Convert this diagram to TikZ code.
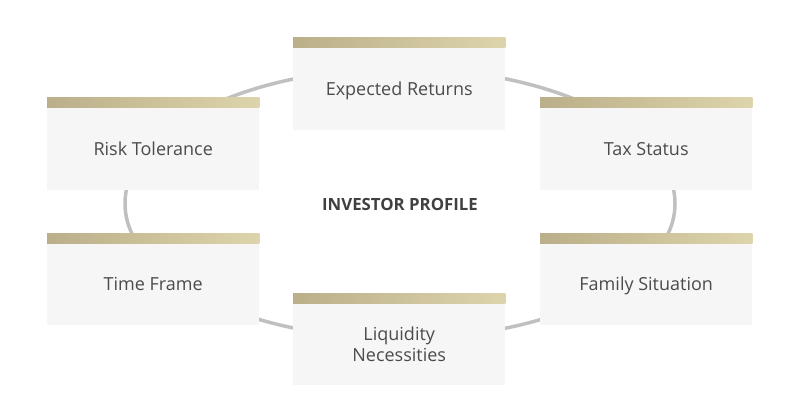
\documentclass[tikz,border=0pt]{standalone}
\usepackage{fontspec}
\setmainfont{Open Sans}
\begin{document}
\begin{tikzpicture}[x=1pt,y=-1pt]
\definecolor{boxfill}{RGB}{246,246,246}
\definecolor{goldL}{RGB}{186,175,136}
\definecolor{goldR}{RGB}{222,212,172}
\definecolor{ringgray}{RGB}{192,192,192}
\definecolor{txt}{RGB}{75,75,75}
\definecolor{titletxt}{RGB}{64,64,64}
\tikzset{
  card/.style={fill=boxfill, draw=none, minimum width=212pt, minimum height=82pt,
    inner sep=0pt, anchor=north west, text=txt, font=\fontsize{18}{21.5}\selectfont},
  oneline/.style={card, text height=13pt, text depth=0pt},
  twoline/.style={card, align=center},
  goldbar/.style={left color=goldL, right color=goldR, draw=none},
}
\useasboundingbox (0,0) rectangle (800,414);
\fill[white] (0,0) rectangle (800,414);
% ring
\draw[ringgray, line width=3.5pt] (400,203.5) ellipse [x radius=275pt, y radius=135pt];
% cards
\node[oneline] (er) at (293,48) {Expected Returns};
\shade[goldbar] (er.north west) ++(0,-10) rectangle (er.north east);
\node[oneline] (rt) at (47,108) {Risk Tolerance};
\shade[goldbar] (rt.north west) ++(0,-10) rectangle (rt.north east);
\node[oneline] (ts) at (540,108) {Tax Status};
\shade[goldbar] (ts.north west) ++(0,-10) rectangle (ts.north east);
\node[oneline] (tf) at (47,243) {Time Frame};
\shade[goldbar] (tf.north west) ++(0,-10) rectangle (tf.north east);
\node[oneline] (fs) at (540,243) {Family Situation};
\shade[goldbar] (fs.north west) ++(0,-10) rectangle (fs.north east);
\node[twoline] (ln) at (293,303) {Liquidity\\Necessities};
\shade[goldbar] (ln.north west) ++(0,-10) rectangle (ln.north east);
% title
\node[font=\fontsize{16.8}{19}\selectfont\bfseries, text=titletxt] (title) at (400,204) {INVESTOR PROFILE};
\end{tikzpicture}
\end{document}
